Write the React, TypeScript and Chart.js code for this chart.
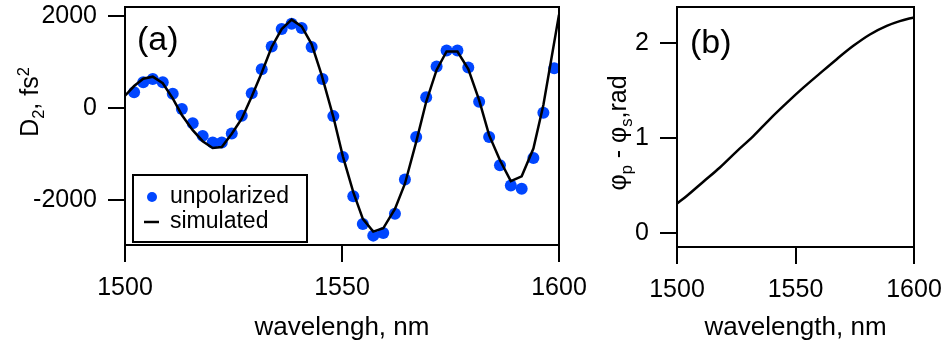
import React, { useEffect, useRef } from "react";
import { Chart, registerables } from "chart.js";
Chart.register(...registerables);

const FONT = "'Liberation Sans', Arial, Helvetica, sans-serif";
const BLUE = "#0046ff";

// Panel (a): measured D2 (unpolarized) dots
const dotWavelengths = [1502.1, 1504.2, 1506.4, 1508.7, 1511.0, 1513.1, 1515.6, 1517.9, 1520.2, 1522.3, 1524.6, 1526.9, 1529.2, 1531.5, 1533.8, 1536.1, 1538.4, 1540.7, 1543.0, 1545.5, 1548.0, 1550.2, 1552.6, 1554.8, 1557.2, 1559.5, 1562.2, 1564.5, 1567.1, 1569.4, 1571.8, 1574.1, 1576.6, 1579.1, 1581.6, 1583.9, 1586.4, 1588.9, 1591.4, 1594.1, 1596.4, 1598.9];
const dotValues = [343, 562, 634, 562, 313, -22, -328, -605, -750, -750, -553, -168, 321, 846, 1340, 1720, 1836, 1742, 1327, 634, -175, -1064, -1917, -2521, -2776, -2718, -2302, -1552, -627, 234, 903, 1253, 1253, 881, 138, -627, -1246, -1683, -1756, -1086, -102, 868];

// Panel (a): simulated curve
const simWavelengths = [1500, 1502.1, 1504.2, 1506.4, 1508.7, 1511.0, 1513.1, 1515.6, 1517.9, 1520.2, 1522.3, 1524.6, 1526.9, 1529.2, 1531.5, 1533.8, 1536.1, 1538.4, 1540.7, 1543.0, 1545.3, 1548.0, 1550.2, 1552.6, 1554.8, 1557.2, 1559.5, 1562.2, 1564.5, 1567.1, 1569.4, 1571.8, 1574.1, 1576.6, 1579.1, 1581.6, 1583.9, 1586.4, 1588.9, 1591.4, 1594.1, 1596.4, 1600];
const simValues = [269, 480, 640, 684, 540, 212, -150, -480, -721, -868, -846, -560, -230, 250, 770, 1330, 1720, 1924, 1778, 1392, 721, -190, -1050, -1829, -2411, -2689, -2616, -2193, -1646, -736, 138, 831, 1231, 1231, 850, 175, -590, -1137, -1589, -1486, -881, 66, 2033];

// Panel (b): phase difference
const phaseWavelengths = [1500, 1504.1, 1511.1, 1518.1, 1525.2, 1532.2, 1539.2, 1546.3, 1553.3, 1560.3, 1567.4, 1574.4, 1581.4, 1588.5, 1594, 1600];
const phaseValues = [0.31, 0.39, 0.54, 0.69, 0.86, 1.02, 1.2, 1.37, 1.53, 1.68, 1.83, 1.97, 2.09, 2.18, 2.23, 2.27];

const xTicks = [1500, 1550, 1600];
const yTicksA = [-2000, 0, 2000];
const yTicksB = [0, 1, 2];

const seriesLabels = ["unpolarized", "simulated"];
const xTitleA = "wavelengh, nm";
const xTitleB = "wavelength, nm";
const panelLabelA = "(a)";
const panelLabelB = "(b)";
type Seg = { t: string; sub?: boolean; sup?: boolean };
const yTitleA: Seg[] = [{ t: "D" }, { t: "2", sub: true }, { t: ", fs" }, { t: "2", sup: true }];
const yTitleB: Seg[] = [{ t: "φ" }, { t: "p", sub: true }, { t: " - " }, { t: "φ" }, { t: "s", sub: true }, { t: ",rad" }];

function drawRotatedRich(ctx: CanvasRenderingContext2D, segs: Seg[], baselineX: number, centerY: number, size: number) {
  ctx.save();
  ctx.fillStyle = "#000";
  ctx.textAlign = "left";
  ctx.textBaseline = "alphabetic";
  let total = 0;
  for (const s of segs) {
    const fs = s.sub || s.sup ? size * 0.66 : size;
    ctx.font = `${fs}px ${FONT}`;
    total += ctx.measureText(s.t).width;
  }
  ctx.translate(baselineX, centerY + total / 2);
  ctx.rotate(-Math.PI / 2);
  let x = 0;
  for (const s of segs) {
    const fs = s.sub || s.sup ? size * 0.66 : size;
    ctx.font = `${fs}px ${FONT}`;
    const dy = s.sub ? size * 0.22 : s.sup ? -size * 0.38 : 0;
    ctx.fillText(s.t, x, dy);
    x += ctx.measureText(s.t).width;
  }
  ctx.restore();
}

function makeDecor(opts: { label: string; labelDx: number; labelDy: number; yTitle: Seg[]; yTitleX: number; yTitleY: number; legend?: boolean }) {
  return {
    id: "decor",
    afterDraw(chart: any) {
      const ctx: CanvasRenderingContext2D = chart.ctx;
      const ca = chart.chartArea;
      ctx.save();
      ctx.strokeStyle = "#000";
      ctx.lineWidth = 2;
      ctx.strokeRect(ca.left, ca.top, ca.right - ca.left, ca.bottom - ca.top);
      ctx.fillStyle = "#000";
      ctx.font = `34px ${FONT}`;
      ctx.textAlign = "left";
      ctx.textBaseline = "alphabetic";
      ctx.fillText(opts.label, ca.left + opts.labelDx, ca.top + opts.labelDy);
      drawRotatedRich(ctx, opts.yTitle, opts.yTitleX, opts.yTitleY, 25);
      if (opts.legend) {
        const bx = ca.left + 8;
        const by = ca.top + 168;
        const bw = 174;
        const bh = 67;
        ctx.fillStyle = "#fff";
        ctx.fillRect(bx, by, bw, bh);
        ctx.strokeStyle = "#000";
        ctx.lineWidth = 2;
        ctx.strokeRect(bx, by, bw, bh);
        const dsDots = chart.data.datasets[1];
        const dsLine = chart.data.datasets[0];
        ctx.fillStyle = dsDots.backgroundColor;
        ctx.beginPath();
        ctx.arc(bx + 19, by + 22, 5, 0, Math.PI * 2);
        ctx.fill();
        ctx.strokeStyle = dsLine.borderColor;
        ctx.lineWidth = 2.5;
        ctx.beginPath();
        ctx.moveTo(bx + 11, by + 47);
        ctx.lineTo(bx + 26, by + 47);
        ctx.stroke();
        ctx.fillStyle = "#000";
        ctx.font = `23px ${FONT}`;
        ctx.textBaseline = "middle";
        ctx.fillText(dsDots.label, bx + 37, by + 22);
        ctx.fillText(dsLine.label, bx + 37, by + 47);
      }
      ctx.restore();
    },
  };
}

function axisCommon(ticksArr: number[], min: number, max: number) {
  return {
    type: "linear" as const,
    min,
    max,
    afterBuildTicks: (scale: any) => {
      scale.ticks = ticksArr.map((v) => ({ value: v }));
    },
    border: { display: true, color: "#000", width: 2 },
    grid: {
      display: true,
      drawOnChartArea: false,
      drawTicks: true,
      tickLength: 17,
      color: "#000",
      tickColor: "#000",
      lineWidth: 2,
      tickWidth: 2,
    },
    ticks: {
      color: "#000",
      font: { family: FONT, size: 25 },
      padding: 11,
      autoSkip: false,
      maxRotation: 0,
      minRotation: 0,
      callback: (v: any) => String(v),
    },
  };
}

function fitX(h: number) {
  return (s: any) => {
    s.height = h;
    s.paddingLeft = 0;
    s.paddingRight = 0;
    s.paddingTop = 0;
    s.paddingBottom = 0;
  };
}
function fitY(w: number) {
  return (s: any) => {
    s.width = w;
    s.paddingLeft = 0;
    s.paddingRight = 0;
    s.paddingTop = 0;
    s.paddingBottom = 0;
  };
}

export default function App() {
  const refA = useRef<HTMLCanvasElement>(null);
  const refB = useRef<HTMLCanvasElement>(null);

  useEffect(() => {
    const chartA = new Chart(refA.current!, {
      type: "scatter",
      data: {
        datasets: [
          {
            label: seriesLabels[1],
            data: simWavelengths.map((x, i) => ({ x, y: simValues[i] })),
            showLine: true,
            borderColor: "#000",
            borderWidth: 2.5,
            pointRadius: 0,
            tension: 0,
          },
          {
            label: seriesLabels[0],
            data: dotWavelengths.map((x, i) => ({ x, y: dotValues[i] })),
            showLine: false,
            backgroundColor: BLUE,
            borderColor: BLUE,
            borderWidth: 0,
            pointRadius: 6,
          },
        ],
      },
      options: {
        animation: false,
        responsive: false,
        events: [],
        layout: { padding: { top: 7, right: 41, left: 0, bottom: 0 } },
        plugins: { legend: { display: false }, tooltip: { enabled: false } },
        scales: {
          x: {
            ...axisCommon(xTicks, 1500, 1600),
            position: "bottom",
            afterFit: fitX(102),
            title: { display: true, text: xTitleA, color: "#000", font: { family: FONT, size: 26 }, padding: { top: 0, bottom: 4 } },
          },
          y: {
            ...axisCommon(yTicksA, -2980, 2200),
            position: "left",
            afterFit: fitY(125),
          },
        },
      },
      plugins: [makeDecor({ label: panelLabelA, labelDx: 12, labelDy: 43, yTitle: yTitleA, yTitleX: 38, yTitleY: 102, legend: true })],
    } as any);

    const chartB = new Chart(refB.current!, {
      type: "scatter",
      data: {
        datasets: [
          {
            label: "phase",
            data: phaseWavelengths.map((x, i) => ({ x, y: phaseValues[i] })),
            showLine: true,
            borderColor: "#000",
            borderWidth: 2.5,
            pointRadius: 0,
            cubicInterpolationMode: "monotone",
          },
        ],
      },
      options: {
        animation: false,
        responsive: false,
        events: [],
        layout: { padding: { top: 7, right: 32, left: 0, bottom: 0 } },
        plugins: { legend: { display: false }, tooltip: { enabled: false } },
        scales: {
          x: {
            ...axisCommon(xTicks, 1500, 1600),
            position: "bottom",
            afterFit: fitX(100),
            title: { display: true, text: xTitleB, color: "#000", font: { family: FONT, size: 26 }, padding: { top: 0, bottom: 4 } },
          },
          y: {
            ...axisCommon(yTicksB, -0.147, 2.379),
            position: "left",
            afterFit: fitY(77),
          },
        },
      },
      plugins: [makeDecor({ label: panelLabelB, labelDx: 13, labelDy: 46, yTitle: yTitleB, yTitleX: 26, yTitleY: 133 })],
    } as any);

    return () => {
      chartA.destroy();
      chartB.destroy();
    };
  }, []);

  return (
    <div style={{ position: "absolute", left: 0, top: 0, width: 946, height: 347, background: "#fff" }}>
      <canvas ref={refA} width={600} height={347} style={{ position: "absolute", left: 0, top: 0, display: "block" }} />
      <canvas ref={refB} width={346} height={347} style={{ position: "absolute", left: 600, top: 0, display: "block" }} />
    </div>
  );
}
